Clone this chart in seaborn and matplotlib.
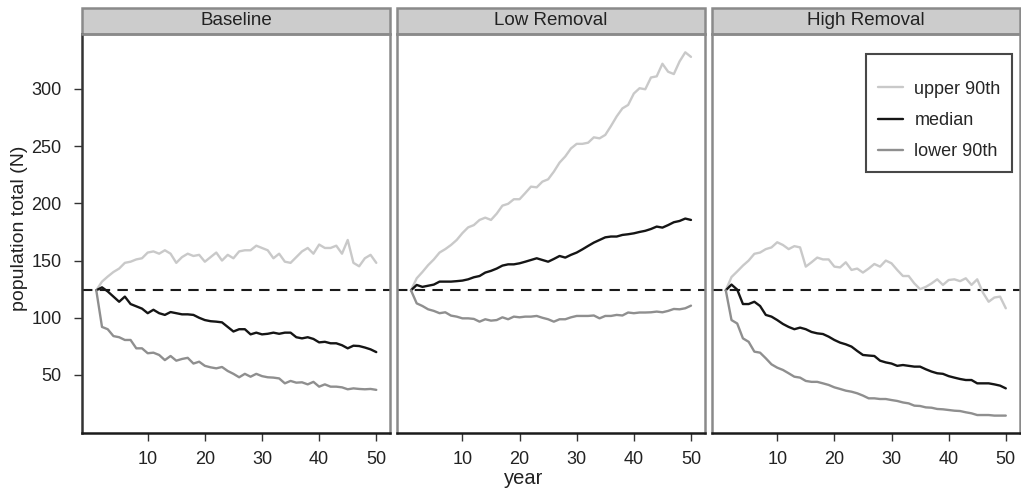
import numpy as np
import pandas as pd
import matplotlib
matplotlib.use("Agg")
import matplotlib.pyplot as plt
from matplotlib.patches import Rectangle
import seaborn as sns

years = list(range(1, 51))
panels = ["Baseline", "Low Removal", "High Removal"]
series_names = ["upper 90th", "median", "lower 90th"]
reference_level = 124

baseline_upper = [124, 131.6, 136, 140, 143, 148, 149, 151, 152, 157, 158, 156, 159, 156, 148, 153, 156, 154, 155, 149,
                  153, 157, 150, 155, 152, 158, 159, 159, 163, 161, 159, 152, 156, 149, 148, 153, 158, 161, 156, 164,
                  161, 161, 163, 156, 168, 148, 145, 152, 155, 148]
baseline_median = [124, 126.6, 123, 118.5, 114, 118.5, 112, 110, 108, 104, 107, 104, 102.5, 105, 104, 103, 103, 102.5, 100, 98,
                   97, 96.6, 96, 92, 88, 90, 90, 85.5, 87, 85.5, 86, 87, 86, 87, 87, 83, 82, 83, 81.5, 78.5,
                   79, 77.7, 77.7, 76, 73.3, 75.6, 75.3, 74, 72.4, 70]
baseline_lower = [124, 92, 90, 84, 83, 80.6, 80.6, 73.3, 73.3, 69, 69.5, 67.5, 63, 66.6, 62.5, 64, 65, 60, 61.6, 58,
                  56.7, 55.8, 57, 53.5, 51, 48, 51, 48.5, 51, 49, 48, 47.7, 47, 42.7, 44.8, 43.3, 43.6, 41.8, 44, 39.8,
                  41.8, 39.8, 39.8, 39.2, 37.5, 38.3, 37.8, 37.5, 37.8, 37]

low_upper = [124, 134.5, 140, 146, 151, 157, 160, 163.6, 168, 174, 179, 181, 185.5, 187.5, 185.5, 191, 198, 199.6, 203.6, 203.6,
             209, 214.6, 214, 219, 221, 227.7, 235.6, 241, 248, 252, 252, 253, 257.7, 256.8, 259.8, 267.6, 276, 283, 286, 296,
             300.6, 299.7, 310, 311, 322, 315, 313, 324, 332, 328]
low_median = [124, 128.7, 127, 128, 129, 131.6, 131.6, 131.6, 132, 132.5, 133.6, 135.4, 136.5, 139.5, 141, 143, 145.6, 146.7, 146.7, 147.6,
              149, 150.5, 152, 150.5, 149, 151.4, 154, 152.6, 155, 157, 159.8, 162.8, 165.7, 168, 170.3, 171, 171, 172.4, 173, 173.8,
              175, 176, 177.6, 179.7, 178.8, 181, 183.5, 184.6, 186.7, 185.5]
low_lower = [124, 112.6, 110.3, 107.4, 106, 104, 104.8, 101.9, 101, 99.5, 99.5, 99, 96.6, 98.7, 97.5, 98, 100.4, 98.7, 101, 100.4,
             101, 101, 101.6, 100, 98.7, 96.6, 98.7, 98.7, 100.4, 101.6, 101.6, 101.6, 102, 99.5, 101.6, 101.6, 102.5, 102, 104.6, 104,
             104.6, 104.6, 104.8, 105.4, 104.8, 106, 107.7, 107.4, 108.3, 110.6]

high_upper = [124, 135.6, 140.5, 145.6, 150, 155.9, 157, 160, 161.5, 166, 163.6, 160, 162.6, 161.5, 144.7, 148.5, 152.6, 151, 151, 144.7,
              144, 148.5, 141.8, 143, 139.5, 143, 147, 144.7, 150, 147.6, 141.8, 136.5, 136.5, 130, 125, 127, 130, 133.6, 128.7, 133,
              133.6, 132, 134.5, 128.7, 133.6, 122, 114, 117.7, 118.5, 108.3]
high_median = [124, 129, 124.6, 112, 112, 114, 110.3, 102.5, 101, 98, 94.6, 92, 90, 91.4, 90, 87.6, 86.4, 85.8, 83.5, 80.6,
               78.3, 76.8, 74.8, 71, 67.5, 67, 66.6, 62.5, 61, 60, 58, 58.7, 58, 57.3, 57.3, 55, 53, 51.5, 51, 49,
               47.7, 46.5, 45.6, 45.6, 42.7, 42.7, 42.7, 41.8, 40.7, 38.3]
high_lower = [124, 98, 95, 82, 79, 70.4, 69.5, 64.6, 59.3, 56.4, 54.4, 51.5, 48.5, 47.7, 44.8, 44, 44, 42.7, 41.3, 39.2,
              37.8, 36.3, 35.4, 34, 32, 29.6, 29.6, 29, 29, 28.1, 27.3, 26, 25.2, 23.2, 22.9, 21.7, 21.4, 20.3, 20, 19.4,
              18.8, 18.5, 17.4, 16.5, 15, 15, 15, 14.5, 14.5, 14.5]

y_ticks = [50, 100, 150, 200, 250, 300]
x_ticks = [10, 20, 30, 40, 50]

data = {
    "Baseline": [baseline_upper, baseline_median, baseline_lower],
    "Low Removal": [low_upper, low_median, low_lower],
    "High Removal": [high_upper, high_median, high_lower],
}
rows = []
for p in panels:
    for s, vals in zip(series_names, data[p]):
        for yr, v in zip(years, vals):
            rows.append({"panel": p, "series": s, "year": yr, "N": v})
df = pd.DataFrame(rows)

sns.set_style("white")
plt.rcParams["font.family"] = ["Liberation Sans", "DejaVu Sans"]

palette = {"upper 90th": "#c9c9c9", "median": "#151515", "lower 90th": "#8f8f8f"}

W, H = 1021, 493
fig = plt.figure(figsize=(W / 100, H / 100), dpi=100)
lefts = [82, 396.7, 711.5]
pw = 308
top_px, bot_px = 34, 433

for i, p in enumerate(panels):
    ax = fig.add_axes([lefts[i] / W, (H - bot_px) / H, pw / W, (bot_px - top_px) / H])
    sub = df[df["panel"] == p]
    sns.lineplot(data=sub, x="year", y="N", hue="series", hue_order=series_names,
                 palette=palette, linewidth=1.7, ax=ax, legend=(i == 2))
    ax.axhline(reference_level, color="#1a1a1a", linestyle=(0, (5, 3.5)), linewidth=1.5, zorder=1)
    ax.set_xlim(-1.5, 52.4)
    ax.set_ylim(-0.7, 348)
    ax.set_xticks(x_ticks)
    ax.set_yticks(y_ticks)
    ax.set_xlabel("")
    ax.set_ylabel("")
    for side in ["top", "right", "left"]:
        ax.spines[side].set_color("#8a8a8a")
        ax.spines[side].set_linewidth(1.8)
    ax.spines["bottom"].set_color("#1a1a1a")
    ax.spines["bottom"].set_linewidth(1.8)
    ax.tick_params(axis="x", direction="out", length=5.8, width=1, color="#333333",
                   labelsize=13, pad=7, bottom=True, labelcolor="#222222")
    if i == 0:
        ax.spines["left"].set_color("#333333")
        ax.tick_params(axis="y", direction="out", length=5.8, width=1, color="#333333",
                       labelsize=13, pad=9, left=True, labelcolor="#222222")
    else:
        ax.tick_params(axis="y", left=False, labelleft=False)
    # strip header
    sh = 26 / (bot_px - top_px)
    ax.add_patch(Rectangle((0, 1), 1, sh, transform=ax.transAxes, facecolor="#cccccc",
                           edgecolor="#8a8a8a", linewidth=1.8, clip_on=False))
    ax.text(0.5, 1 + sh / 2, p, transform=ax.transAxes, ha="center", va="center",
            fontsize=13.5, color="#222222")
    if i == 2:
        leg = ax.legend(title=" ", title_fontsize=0.5, loc="upper right",
                        bbox_to_anchor=(0.977, 0.950),
                        borderaxespad=0, fontsize=13, frameon=True, fancybox=False,
                        handlelength=1.38, handletextpad=0.66, labelspacing=0.78,
                        borderpad=0.65)
        leg.get_frame().set_edgecolor("#1a1a1a")
        leg.get_frame().set_linewidth(1.5)
        for line in leg.get_lines():
            line.set_linewidth(1.7)

fig.text(524 / W, 1 - 478 / H, "year", ha="center", va="center", fontsize=14.5, color="#222222")
fig.text(19 / W, 1 - 228 / H, "population total (N)", ha="center", va="center",
         rotation=90, fontsize=14, color="#222222")

fig.savefig("out.png", dpi=100)
